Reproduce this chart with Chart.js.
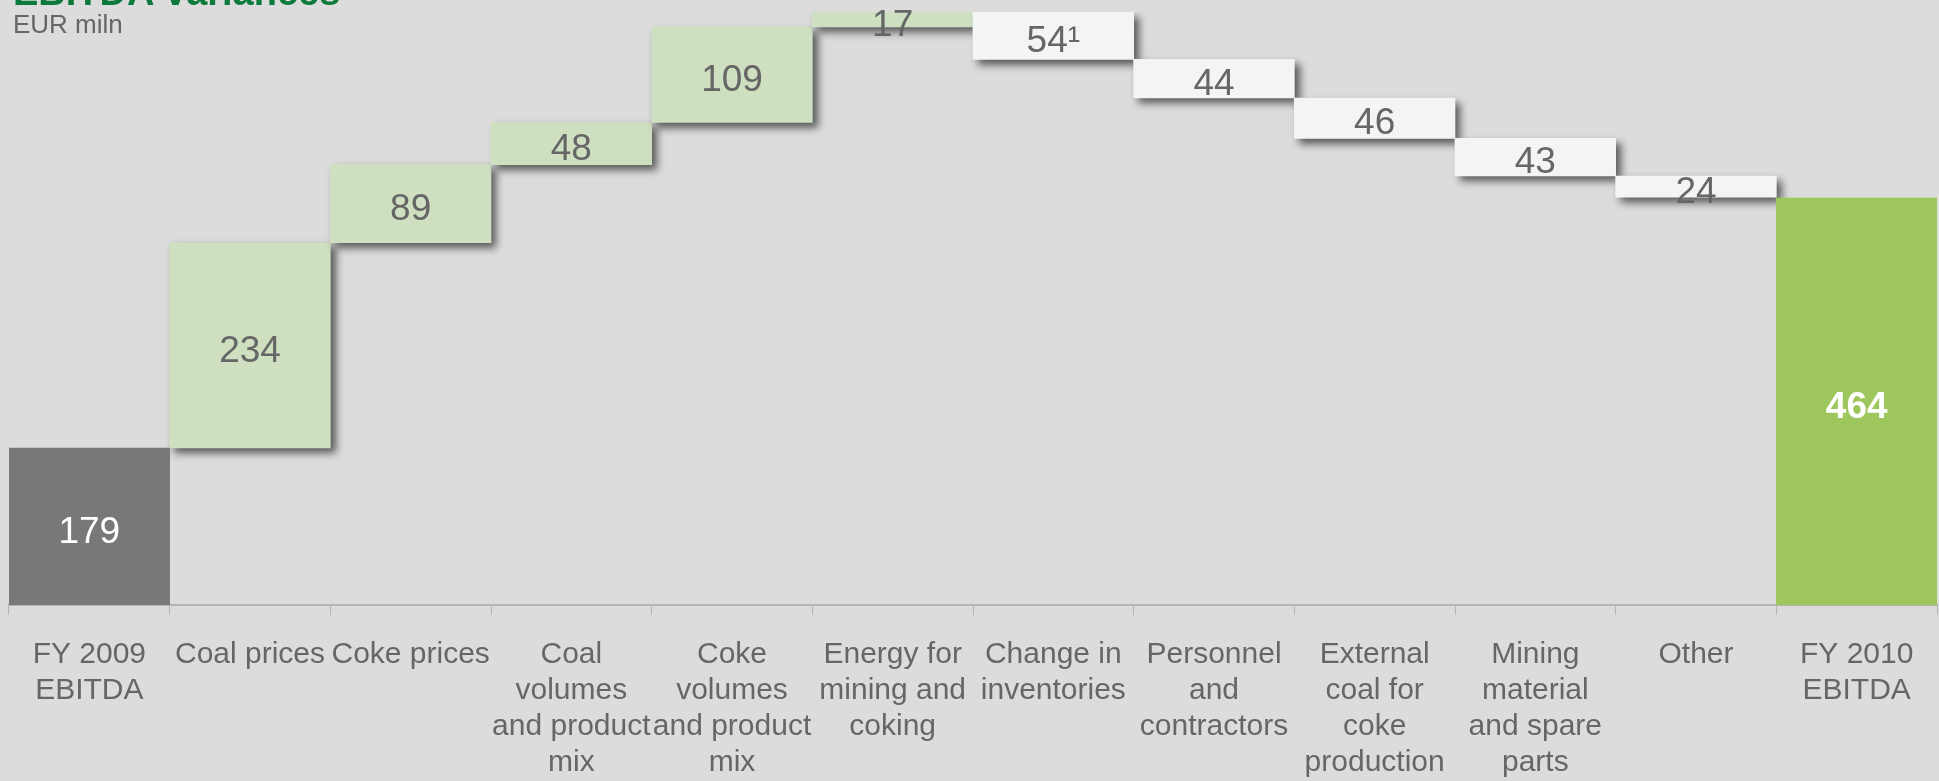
<!DOCTYPE html>
<html>
<head>
<meta charset="utf-8">
<title>EBITDA variances</title>
<script src="https://cdn.jsdelivr.net/npm/chart.js@4.4.1/dist/chart.umd.min.js"></script>
<style>
  html, body { margin: 0; padding: 0; background: #dcdcdc; }
  #wrap { width: 1939px; height: 781px; }
</style>
</head>
<body>
<div id="wrap"><canvas id="chart" width="1939" height="781"></canvas></div>
<script>
const categories = [
  ['FY 2009', 'EBITDA'],
  'Coal prices',
  'Coke prices',
  ['Coal', 'volumes', 'and product', 'mix'],
  ['Coke', 'volumes', 'and product', 'mix'],
  ['Energy for', 'mining and', 'coking'],
  ['Change in', 'inventories'],
  ['Personnel', 'and', 'contractors'],
  ['External', 'coal for', 'coke', 'production'],
  ['Mining', 'material', 'and spare', 'parts'],
  'Other',
  ['FY 2010', 'EBITDA']
];
const startValue = 179;
const endValue = 464;
const changes = [234, 89, 48, 109, 17, -54, -44, -46, -43, -24];
const valueLabels = ['179', '234', '89', '48', '109', '17', '54¹', '44', '46', '43', '24', '464'];

const FONT = "'Liberation Sans', Arial, sans-serif";
const GREY_TEXT = '#666666';

// running totals for the floating bars
const totals = [[0, startValue]];
const steps = [null];
let level = startValue;
changes.forEach((c) => {
  steps.push([level, level + c]);
  totals.push(null);
  level += c;
});
steps.push(null);
totals.push([0, endValue]);

const stepColors = [null].concat(changes.map((c) => (c > 0 ? '#cfe0c0' : '#f4f4f4')), [null]);

const shadowPlugin = {
  id: 'shadow',
  beforeDatasetDraw(chart, args) {
    if (args.index !== 1) return;
    const ctx = chart.ctx;
    ctx.save();
    ctx.shadowColor = 'rgba(0, 0, 0, 0.6)';
    ctx.shadowBlur = 8;
    ctx.shadowOffsetX = 5;
    ctx.shadowOffsetY = 5;
  },
  afterDatasetDraw(chart, args) {
    if (args.index === 1) chart.ctx.restore();
  }
};

const labelPlugin = {
  id: 'valueLabels',
  afterDatasetsDraw(chart) {
    const ctx = chart.ctx;
    ctx.save();
    ctx.textAlign = 'center';
    ctx.textBaseline = 'middle';
    chart.data.datasets.forEach((ds, di) => {
      chart.getDatasetMeta(di).data.forEach((bar, i) => {
        if (ds.data[i] == null) return;
        const isTotal = di === 0;
        const bold = isTotal && i === categories.length - 1;
        ctx.font = (bold ? 'bold ' : '') + '37px ' + FONT;
        ctx.fillStyle = isTotal ? '#ffffff' : GREY_TEXT;
        ctx.fillText(valueLabels[i], bar.x, (bar.y + bar.base) / 2 + 6);
      });
    });
    ctx.restore();
  }
};

const headerPlugin = {
  id: 'header',
  afterDraw(chart) {
    const ctx = chart.ctx;
    ctx.save();
    ctx.textAlign = 'left';
    ctx.textBaseline = 'alphabetic';
    ctx.fillStyle = '#0b7a3b';
    ctx.font = 'bold 38px ' + FONT;
    ctx.fillText('EBITDA variances', 13, 5);
    ctx.fillStyle = GREY_TEXT;
    ctx.font = '26px ' + FONT;
    ctx.fillText('EUR miln', 13, 33);
    ctx.restore();
  }
};

new Chart(document.getElementById('chart').getContext('2d'), {
  type: 'bar',
  data: {
    labels: categories,
    datasets: [
      {
        label: 'Total',
        data: totals,
        backgroundColor: ['#78787a', null, null, null, null, null, null, null, null, null, null, '#9dc75d'],
        grouped: false,
        borderWidth: 0
      },
      {
        label: 'Change',
        data: steps,
        backgroundColor: stepColors,
        grouped: false,
        borderWidth: 0
      }
    ]
  },
  options: {
    responsive: false,
    animation: false,
    barPercentage: 1,
    categoryPercentage: 1,
    layout: { padding: { top: 12, left: 9, right: 2, bottom: 0 } },
    plugins: {
      legend: { display: false },
      tooltip: { enabled: false },
      title: { display: false }
    },
    scales: {
      x: {
        grid: { drawOnChartArea: false, drawTicks: true, tickLength: 10, color: '#b4b4b4', lineWidth: 1, offset: true },
        border: { display: true, color: '#b4b4b4', width: 2 },
        ticks: {
          color: GREY_TEXT,
          font: { family: FONT, size: 30, lineHeight: 1.2 },
          padding: 22,
          maxRotation: 0,
          minRotation: 0,
          autoSkip: false
        },
        afterFit: (scale) => { scale.height = 176; }
      },
      y: {
        display: false,
        min: 0,
        max: 676
      }
    }
  },
  plugins: [shadowPlugin, labelPlugin, headerPlugin]
});
</script>
</body>
</html>
